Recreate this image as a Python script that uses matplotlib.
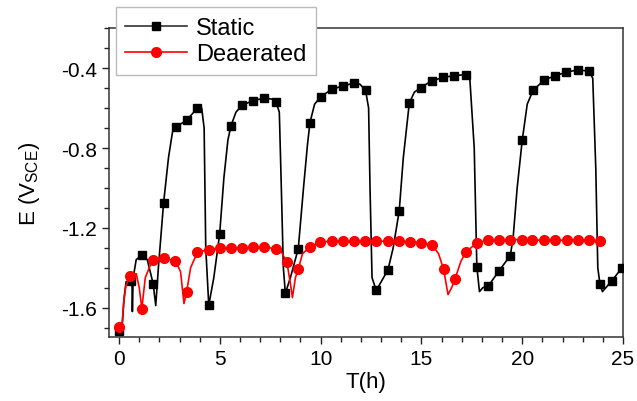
import matplotlib
matplotlib.use("Agg")
import matplotlib.pyplot as plt
from matplotlib.lines import Line2D
from matplotlib.ticker import MultipleLocator

plt.rcParams['font.family'] = ['Liberation Sans', 'DejaVu Sans']
plt.rcParams['mathtext.default'] = 'regular'

# ---- Static: marker points ----
static_mk_t = [0.0, 0.58, 1.13, 1.69, 2.21, 2.82, 3.35, 3.89, 4.45, 4.99, 5.55, 6.10,
               6.65, 7.21, 7.79, 8.25, 8.89, 9.47, 10.01, 10.54, 11.10, 11.64, 12.23,
               12.76, 13.34, 13.90, 14.40, 14.97, 15.51, 16.08, 16.64, 17.20, 17.75,
               18.31, 18.85, 19.41, 20.00, 20.54, 21.09, 21.65, 22.19, 22.76, 23.31,
               23.86, 24.44, 24.93]
static_mk_E = [-1.716, -1.468, -1.335, -1.480, -1.074, -0.694, -0.660, -0.600, -1.588,
               -1.232, -0.689, -0.586, -0.562, -0.550, -0.571, -1.528, -1.305, -0.673,
               -0.543, -0.506, -0.489, -0.475, -0.511, -1.514, -1.411, -1.114, -0.574,
               -0.497, -0.463, -0.446, -0.437, -0.432, -1.396, -1.493, -1.416, -1.339,
               -0.762, -0.511, -0.459, -0.437, -0.420, -0.408, -0.415, -1.484, -1.467,
               -1.403]

# ---- Static: line trace ----
static_ln_t = [0.0, 0.15, 0.25, 0.35, 0.58, 0.64, 0.66, 0.70, 0.85, 1.13, 1.40, 1.69,
               1.82, 1.95, 2.21, 2.45, 2.65, 2.82, 3.05, 3.35, 3.89, 4.10, 4.22, 4.30,
               4.45, 4.70, 4.99, 5.20, 5.40, 5.55, 5.80, 6.10, 6.65, 7.21, 7.60, 7.79,
               7.95, 8.05, 8.15, 8.25, 8.50, 8.89, 9.15, 9.35, 9.47, 9.70, 10.01, 10.54,
               11.10, 11.64, 11.95, 12.23, 12.38, 12.45, 12.55, 12.76, 13.34, 13.60,
               13.90, 14.10, 14.40, 14.65, 14.97, 15.51, 16.08, 16.64, 17.20, 17.40,
               17.62, 17.75, 17.88, 18.05, 18.31, 18.85, 19.41, 19.55, 19.75, 20.00,
               20.25, 20.54, 21.09, 21.65, 22.19, 22.76, 23.31, 23.50, 23.65, 23.75,
               23.86, 23.98, 24.44, 24.93, 25.2]
static_ln_E = [-1.716, -1.70, -1.55, -1.47, -1.468, -1.46, -1.62, -1.45, -1.36, -1.335,
               -1.36, -1.48, -1.59, -1.40, -1.074, -0.85, -0.72, -0.694, -0.68, -0.660,
               -0.600, -0.600, -0.70, -1.30, -1.588, -1.45, -1.232, -0.95, -0.76, -0.689,
               -0.62, -0.586, -0.562, -0.550, -0.555, -0.571, -0.62, -1.00, -1.40, -1.528,
               -1.45, -1.305, -1.00, -0.78, -0.673, -0.58, -0.543, -0.506, -0.489, -0.475,
               -0.48, -0.511, -0.60, -1.00, -1.45, -1.514, -1.411, -1.30, -1.114, -0.85,
               -0.574, -0.52, -0.497, -0.463, -0.446, -0.437, -0.432, -0.45, -0.80,
               -1.396, -1.52, -1.50, -1.493, -1.416, -1.339, -1.25, -1.00, -0.762, -0.58,
               -0.511, -0.459, -0.437, -0.420, -0.408, -0.415, -0.45, -0.90, -1.40,
               -1.484, -1.52, -1.467, -1.403, -1.36]

# ---- Deaerated: marker points ----
deaer_mk_t = [0.0, 0.55, 1.13, 1.66, 2.23, 2.79, 3.35, 3.89, 4.45, 4.99, 5.55, 6.11,
              6.65, 7.21, 7.77, 8.33, 8.89, 9.45, 9.99, 10.55, 11.10, 11.64, 12.20,
              12.76, 13.34, 13.90, 14.44, 15.00, 15.54, 16.10, 16.66, 17.20, 17.75,
              18.31, 18.85, 19.41, 19.97, 20.51, 21.07, 21.61, 22.21, 22.76, 23.31,
              23.85]
deaer_mk_E = [-1.699, -1.44, -1.605, -1.36, -1.353, -1.365, -1.522, -1.322, -1.309,
              -1.302, -1.300, -1.300, -1.297, -1.297, -1.305, -1.374, -1.408, -1.297,
              -1.271, -1.267, -1.267, -1.267, -1.267, -1.267, -1.267, -1.267, -1.271,
              -1.276, -1.288, -1.408, -1.459, -1.322, -1.276, -1.262, -1.259, -1.259,
              -1.259, -1.262, -1.262, -1.262, -1.262, -1.262, -1.262, -1.266]

# ---- Deaerated: line trace ----
deaer_ln_t = [0.0, 0.15, 0.23, 0.34, 0.55, 0.85, 1.00, 1.13, 1.30, 1.66, 2.23, 2.79,
              3.05, 3.22, 3.35, 3.55, 3.89, 4.45, 4.99, 5.55, 6.11, 6.65, 7.21, 7.77,
              8.05, 8.33, 8.50, 8.60, 8.75, 8.89, 9.10, 9.45, 9.99, 10.55, 11.10, 11.64,
              12.20, 12.76, 13.34, 13.90, 14.44, 15.00, 15.54, 15.85, 16.10, 16.32,
              16.50, 16.66, 16.95, 17.20, 17.75, 18.31, 18.85, 19.41, 19.97, 20.51,
              21.07, 21.61, 22.21, 22.76, 23.31, 23.85]
deaer_ln_E = [-1.699, -1.68, -1.575, -1.49, -1.44, -1.43, -1.50, -1.605, -1.45, -1.36,
              -1.353, -1.365, -1.42, -1.58, -1.522, -1.40, -1.322, -1.309, -1.302, -1.300,
              -1.300, -1.297, -1.297, -1.305, -1.32, -1.374, -1.48, -1.55, -1.45, -1.408,
              -1.33, -1.297, -1.271, -1.267, -1.267, -1.267, -1.267, -1.267, -1.267,
              -1.267, -1.271, -1.276, -1.288, -1.33, -1.408, -1.535, -1.50, -1.459,
              -1.37, -1.322, -1.276, -1.262, -1.259, -1.259, -1.259, -1.262, -1.262,
              -1.262, -1.262, -1.262, -1.262, -1.266]

x_ticks = [0, 5, 10, 15, 20, 25]
y_ticks = [-1.6, -1.2, -0.8, -0.4]

fig = plt.figure(figsize=(6.37, 4.02), dpi=100)
ax = fig.add_axes([0.1711, 0.158, 0.978 - 0.1711, 0.927 - 0.158])

black = '#000000'
red = '#ff0000'
ax.plot(static_ln_t, static_ln_E, color=black, lw=1.2, zorder=2)
ax.plot(static_mk_t, static_mk_E, ls='none', marker='s', ms=6, color=black, zorder=3)
ax.plot(deaer_ln_t, deaer_ln_E, color=red, lw=1.2, zorder=4)
ax.plot(deaer_mk_t, deaer_mk_E, ls='none', marker='o', ms=7, color=red, zorder=5)

ax.set_xlim(-0.5, 25)
ax.set_ylim(-1.75, -0.2)
ax.set_xticks(x_ticks)
ax.set_xticklabels([str(v) for v in x_ticks])
ax.set_yticks(y_ticks)
ax.set_yticklabels([f"{v:.1f}" for v in y_ticks])
ax.xaxis.set_minor_locator(MultipleLocator(1))
ax.yaxis.set_minor_locator(MultipleLocator(0.1))
ax.tick_params(which='major', direction='out', length=5, width=1, labelsize=15,
               colors='#222222', labelcolor='black', top=False, right=False)
ax.tick_params(which='minor', direction='out', length=3.5, width=1,
               colors='#222222', top=False, right=False)
for s in ax.spines.values():
    s.set_color('#333333')
    s.set_linewidth(1.1)

ax.set_xlabel('T(h)', fontsize=16, labelpad=2)
ax.set_ylabel('E (V$_{SCE}$)', fontsize=16, labelpad=14)

handles = [Line2D([], [], color='#333333', lw=1.2, marker='s', ms=6, markerfacecolor=black,
                  markeredgecolor=black),
           Line2D([], [], color=red, lw=1.2, marker='o', ms=7)]
leg = ax.legend(handles, ['Static', 'Deaerated'], loc='upper left',
                bbox_to_anchor=(0.013, 1.068), borderaxespad=0, fontsize=17,
                frameon=True, fancybox=False, edgecolor='#bbbbbb', framealpha=1,
                handlelength=2.6, handletextpad=0.4, borderpad=0.4,
                labelspacing=0.2, markerscale=1.0)
leg.get_frame().set_linewidth(1.0)
leg.set_zorder(10)

fig.savefig('out.png', dpi=100)
